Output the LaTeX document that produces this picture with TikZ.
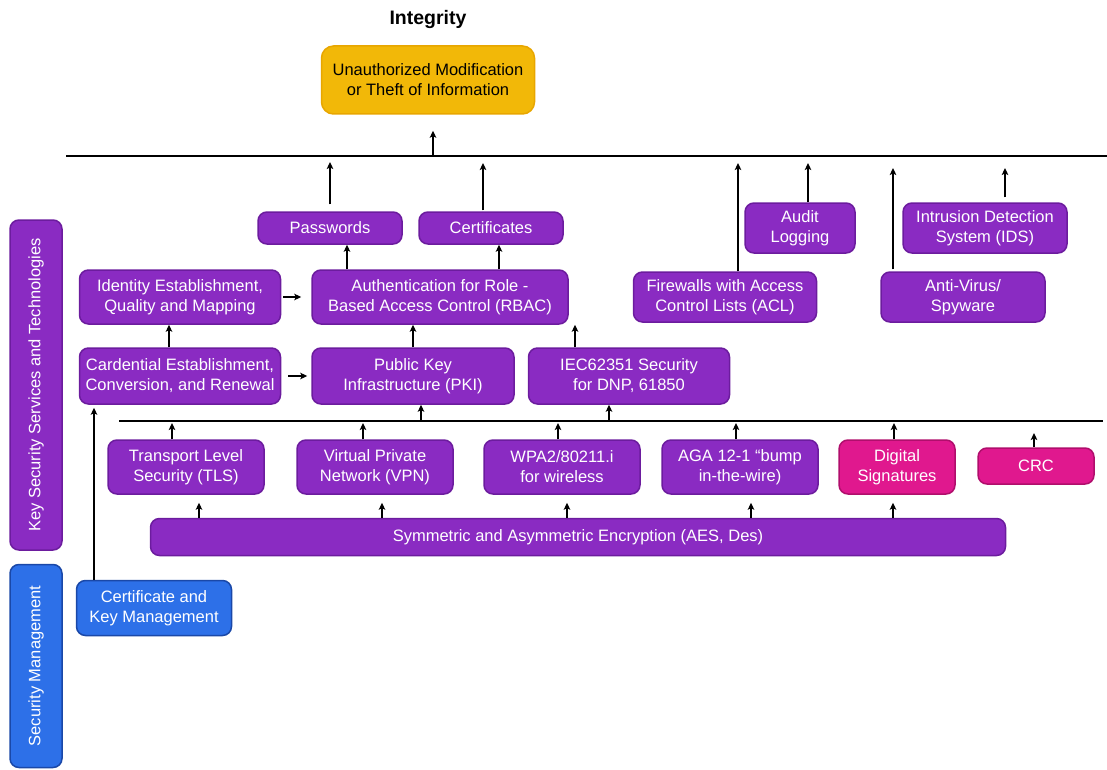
\documentclass[tikz,border=0pt]{standalone}
\usepackage{fontspec}
\setmainfont{Liberation Sans}
\usetikzlibrary{arrows.meta}
\definecolor{pfill}{RGB}{138,43,194}
\definecolor{pdraw}{RGB}{108,28,158}
\definecolor{yfill}{RGB}{242,184,8}
\definecolor{ydraw}{RGB}{232,166,0}
\definecolor{bfill}{RGB}{45,112,232}
\definecolor{bdraw}{RGB}{26,72,168}
\definecolor{mfill}{RGB}{224,24,142}
\definecolor{mdraw}{RGB}{176,14,108}
\begin{document}
\begin{tikzpicture}[x=1pt,y=-1pt,
  every node/.style={font=\fontsize{16.5}{20}\selectfont},
  box/.style={draw=pdraw,fill=pfill,text=white,rounded corners=9pt,line width=1.5pt,align=center,inner sep=2pt},
  magbox/.style={box,draw=mdraw,fill=mfill},
  bluebox/.style={box,draw=bdraw,fill=bfill},
  arr/.style={-{Stealth[length=7pt,width=6.5pt,inset=1.5pt]},line width=2pt},
  bus/.style={line width=2.5pt}]
\useasboundingbox (0,0) rectangle (1107,770);

\node(T) at (428,20) {\fontsize{19.5}{22}\selectfont\bfseries Integrity};
\node(U)[box,draw=ydraw,fill=yfill,text=black,rounded corners=12pt,minimum width=213,minimum height=68] at (428,80) {Unauthorized Modification\\or Theft of Information};

\node(P)[box,minimum width=144,minimum height=32] at (330,228) {Passwords};
\node(C)[box,minimum width=144,minimum height=32] at (491,228) {Certificates};
\node(I)[box,minimum width=201,minimum height=54] at (180,297) {Identity Establishment,\\Quality and Mapping};
\node(A)[box,minimum width=256,minimum height=54] at (440,297) {Authentication for Role -\\Based Access Control (RBAC)};
\node(K)[box,minimum width=201,minimum height=56] at (180,376) {Cardential Establishment,\\Conversion, and Renewal};
\node(PKI)[box,minimum width=202,minimum height=56] at (413,376) {Public Key\\Infrastructure (PKI)};
\node(IEC)[box,minimum width=201,minimum height=56] at (629,376) {IEC62351 Security\\for DNP, 61850};
\node(FW)[box,minimum width=183,minimum height=50] at (725,297) {Firewalls with Access\\Control Lists (ACL)};
\node(AL)[box,minimum width=110,minimum height=50] at (800,228) {Audit\\Logging};
\node(AV)[box,minimum width=164,minimum height=50] at (963,297) {Anti-Virus/\\Spyware};
\node(IDS)[box,minimum width=164,minimum height=50] at (985,228) {Intrusion Detection\\System (IDS)};

\node(TLS)[box,minimum width=156,minimum height=54] at (186,467) {Transport Level\\Security (TLS)};
\node(VPN)[box,minimum width=156,minimum height=54] at (375,467) {Virtual Private\\Network (VPN)};
\node(WPA)[box,minimum width=156,minimum height=54] at (562,467) {WPA2/80211.i\\for wireless};
\node(AGA)[box,minimum width=156,minimum height=54] at (740,467) {AGA 12-1 “bump\\in-the-wire)};
\node(DS)[magbox,minimum width=116,minimum height=54] at (897,467) {Digital\\Signatures};
\node(CRC)[magbox,minimum width=116,minimum height=36] at (1036,466) {CRC};
\node(E)[box,minimum width=855,minimum height=37] at (578,537) {Symmetric and Asymmetric Encryption (AES, Des)};

\node(KS)[box,rotate=90,minimum width=330,minimum height=52] at (36,385) {Key Security Services and Technologies};
\node(SM)[bluebox,rotate=90,minimum width=203,minimum height=52] at (36,666) {Security Management};
\node(CK)[bluebox,minimum width=155,minimum height=55] at (154,608) {Certificate and\\Key Management};

\coordinate(L1) at (66,156);
\coordinate(R1) at (1107,156);
\coordinate(L2) at (119,421);
\coordinate(R2) at (1103,421);
\draw[bus] (L1) -- (R1);
\draw[bus] (L2) -- (R2);

\draw[arr,shorten >=16pt] ([xshift=5pt]U.south |- L1) -- ([xshift=5pt]U.south);
\draw[arr,shorten <=7pt,shorten >=6pt] (P.north) -- (P.north |- L1);
\draw[arr,shorten <=1pt,shorten >=7pt] ([xshift=-8pt]C.north) -- ([xshift=-8pt]C.north |- L1);
\draw[arr] ([xshift=17pt]P.south |- A.north) -- ([xshift=17pt]P.south);
\draw[arr] ([xshift=8pt]C.south |- A.north) -- ([xshift=8pt]C.south);
\draw[arr,shorten <=2pt,shorten >=10pt] (I.east) -- (A.west);
\draw[arr] ([xshift=-11pt]K.north) -- ([xshift=-11pt]I.south);
\draw[arr,shorten <=7pt,shorten >=4pt] (K.east) -- (PKI.west);
\draw[arr] (PKI.north) -- (PKI.north |- A.south);
\draw[arr] ([xshift=-54pt]IEC.north) -- ([xshift=-54pt]IEC.north |- A.south);
\draw[arr,shorten >=7pt] ([xshift=13pt]FW.north) -- ([xshift=13pt]FW.north |- L1);
\draw[arr,shorten >=7pt] ([xshift=8pt]AL.north) -- ([xshift=8pt]AL.north |- L1);
\draw[arr,shorten <=2pt,shorten >=12pt] ([xshift=-70pt]AV.north) -- ([xshift=-70pt]AV.north |- L1);
\draw[arr,shorten <=5pt,shorten >=12pt] ([xshift=20pt]IDS.north) -- ([xshift=20pt]IDS.north |- L1);

\draw[arr] ([xshift=8pt]PKI.south |- L2) -- ([xshift=8pt]PKI.south);
\draw[arr] ([xshift=-20pt]IEC.south |- L2) -- ([xshift=-20pt]IEC.south);
\draw[arr,shorten >=2pt] ([xshift=-14pt]TLS.north) -- ([xshift=-14pt]TLS.north |- L2);
\draw[arr,shorten >=2pt] ([xshift=-12pt]VPN.north) -- ([xshift=-12pt]VPN.north |- L2);
\draw[arr,shorten >=2pt] ([xshift=-4pt]WPA.north) -- ([xshift=-4pt]WPA.north |- L2);
\draw[arr,shorten >=2pt] ([xshift=-4pt]AGA.north) -- ([xshift=-4pt]AGA.north |- L2);
\draw[arr,shorten >=2pt] ([xshift=-3pt]DS.north) -- ([xshift=-3pt]DS.north |- L2);
\draw[arr,shorten >=12pt] ([xshift=-2pt]CRC.north) -- ([xshift=-2pt]CRC.north |- L2);

\draw[arr,shorten >=8pt] ([xshift=13pt]TLS.south |- E.north) -- ([xshift=13pt]TLS.south);
\draw[arr,shorten >=8pt] ([xshift=7pt]VPN.south |- E.north) -- ([xshift=7pt]VPN.south);
\draw[arr,shorten >=8pt] ([xshift=5pt]WPA.south |- E.north) -- ([xshift=5pt]WPA.south);
\draw[arr,shorten >=8pt] ([xshift=11pt]AGA.south |- E.north) -- ([xshift=11pt]AGA.south);
\draw[arr,shorten >=8pt] ([xshift=-4pt]DS.south |- E.north) -- ([xshift=-4pt]DS.south);

\draw[arr,shorten >=3pt] ([xshift=-60pt]CK.north) -- ([xshift=-60pt]CK.north |- K.south);

\end{tikzpicture}
\end{document}
